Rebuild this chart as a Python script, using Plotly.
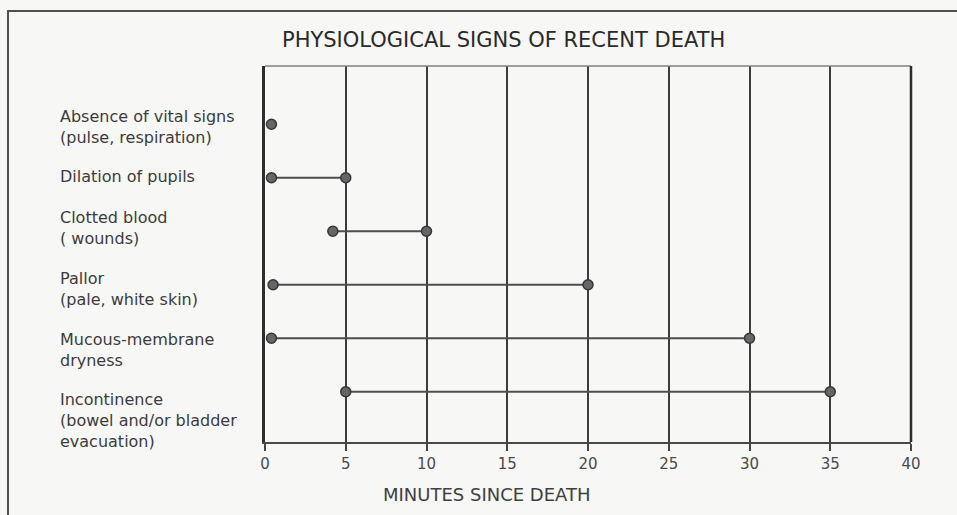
import plotly.graph_objects as go

# Signs and the window (minutes after death) in which each is observed
signs = [
    "Absence of vital signs<br>(pulse, respiration)",
    "Dilation of pupils",
    "Clotted blood<br>( wounds)",
    "Pallor<br>(pale, white skin)",
    "Mucous-membrane<br>dryness",
    "Incontinence<br>(bowel and/or bladder<br>evacuation)",
]
start_min = [0.4, 0.4, 4.2, 0.5, 0.4, 5.0]
end_min = [0.4, 5.0, 10.0, 20.0, 30.0, 35.0]
x_ticks = [0, 5, 10, 15, 20, 25, 30, 35, 40]

title_text = "PHYSIOLOGICAL SIGNS OF RECENT DEATH"
x_title = "MINUTES SINCE DEATH"

# Layout geometry (pixels of the 957x515 page)
W, H = 957, 515
ML, MR, MT, MB = 265, 46, 66, 73
PW, PH = W - ML - MR, H - MT - MB


def px(p):
    return (p - ML) / PW


def py(q):
    return (H - MB - q) / PH


FONT = "DejaVu Sans"
BG = "#f7f7f6"

# vertical nudges of the left-hand captions relative to their rows
label_shift = [-3, 1, 3, -4, -12, -29]

fig = go.Figure()

for i, (s, e) in enumerate(zip(start_min, end_min)):
    xs = [s] if s == e else [s, e]
    fig.add_trace(go.Scatter(
        x=xs, y=[i] * len(xs),
        mode="lines+markers",
        line=dict(color="#4e4e4e", width=2),
        marker=dict(size=10, color="#666666", line=dict(color="#363636", width=1.5)),
        showlegend=False, hoverinfo="x",
    ))

annotations = []
for i, lab in enumerate(signs):
    annotations.append(dict(
        text=lab, xref="paper", yref="y", x=px(58), y=i,
        xanchor="left", yanchor="middle", align="left", showarrow=False,
        yshift=label_shift[i],
        font=dict(family=FONT, size=16, color="#3c3c3c"),
    ))

annotations.append(dict(
    text=title_text, xref="paper", yref="paper", x=px(503), y=py(40),
    xanchor="center", yanchor="middle", showarrow=False,
    font=dict(family=FONT, size=21, color="#2a2a2a"),
))
annotations.append(dict(
    text=x_title, xref="paper", yref="paper", x=px(487), y=py(494),
    xanchor="center", yanchor="middle", showarrow=False,
    font=dict(family=FONT, size=18, color="#404040"),
))

shapes = [
    # outer frame of the figure
    dict(type="rect", xref="paper", yref="paper",
         x0=px(8), x1=px(970), y0=py(530), y1=py(11),
         line=dict(color="#505050", width=2), layer="below"),
    # top edge of the plot box
    dict(type="line", xref="paper", yref="paper", x0=0, x1=1, y0=1, y1=1,
         line=dict(color="#808080", width=1.5)),
    # right edge of the plot box
    dict(type="line", xref="paper", yref="paper", x0=1, x1=1, y0=0, y1=1,
         line=dict(color="#2e2e2e", width=2.5)),
]

fig.update_layout(
    width=W, height=H,
    margin=dict(l=ML, r=MR, t=MT, b=MB),
    paper_bgcolor=BG, plot_bgcolor=BG,
    annotations=annotations, shapes=shapes,
    xaxis=dict(
        range=[0, 40], tickmode="array", tickvals=x_ticks,
        ticktext=[str(v) for v in x_ticks],
        showgrid=True, gridcolor="#3c3c3c", gridwidth=1.5,
        zeroline=False, showline=True, linecolor="#484848", linewidth=2,
        ticks="outside", ticklen=7, tickwidth=1.5, tickcolor="#444444",
        tickfont=dict(family=FONT, size=15, color="#4a4a4a"),
        fixedrange=True,
    ),
    yaxis=dict(
        range=[5.94, -1.09], showgrid=False, zeroline=False,
        showticklabels=False, ticks="",
        showline=True, linecolor="#2e2e2e", linewidth=2.5,
        fixedrange=True,
    ),
)

fig.write_html("out.html")
